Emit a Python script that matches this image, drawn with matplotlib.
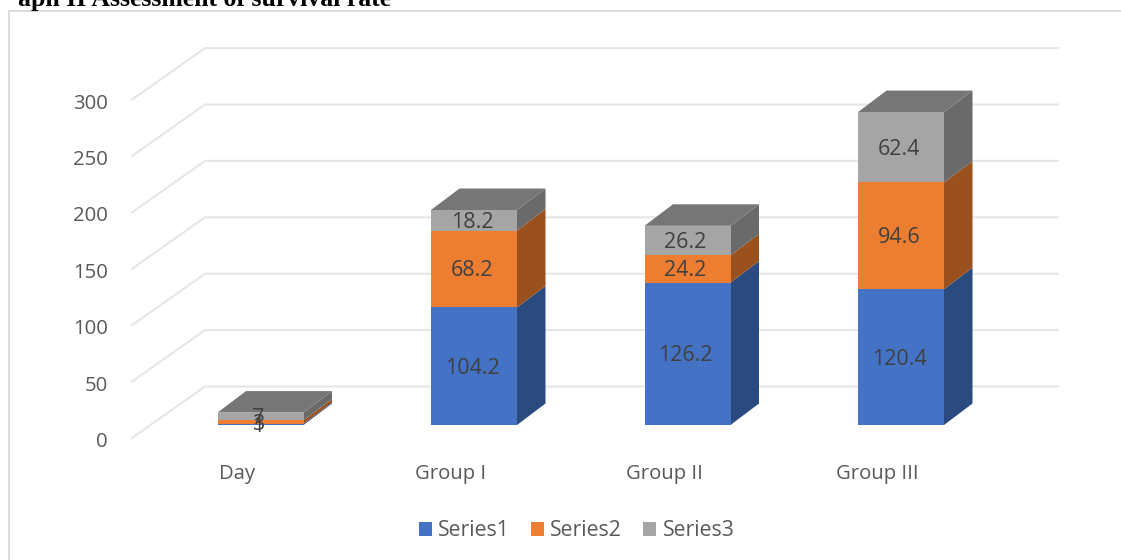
import numpy as np
import matplotlib
matplotlib.use("Agg")
import matplotlib.pyplot as plt
from matplotlib.patches import Patch
from matplotlib.lines import Line2D

categories = ["Day", "Group I", "Group II", "Group III"]
series1 = [1, 104.2, 126.2, 120.4]
series2 = [3, 68.2, 24.2, 94.6]
series3 = [7, 18.2, 26.2, 62.4]
yticks = [0, 50, 100, 150, 200, 250, 300]

front_cols = ["#4472C4", "#ED7D31", "#A5A5A5"]
side_cols = ["#2B4A80", "#9A511E", "#6A6A6A"]
top_col = "#767676"
txt_col = "#595959"
grid_col = "#E6E6E6"
font = "Open Sans"

W, H = 1121, 560
fig = plt.figure(figsize=(W / 100, H / 100), dpi=100)
ax = fig.add_axes([0, 0, 1, 1])

# scale: one category = 213.5 px, one value unit = 1.128 px
xs = 213.5
ys = 1.128
ax.set_xlim(-260.5 / xs, (W - 260.5) / xs)
ax.set_ylim(-(H - 425) / ys, 425 / ys)
ax.axis("off")


def px_x(n):
    return n / xs


def px_y(n):
    return n / ys


# back wall and floor gridlines
for t in yticks:
    front = (px_x(132 - 260.5), t - px_y(13))
    back = (px_x(205 - 260.5), t + px_y(38.5))
    right = px_x(1058 - 260.5)
    ax.plot([front[0], back[0], right], [front[1], back[1], back[1]],
            color=grid_col, lw=1.5, solid_joinstyle="miter", zorder=1)
    ax.text(px_x(108 - 260.5), t - px_y(17), str(t), ha="right", va="center",
            fontsize=14.7, color=txt_col, family=font)

x = np.arange(len(categories))
width = px_x(86)
dx = px_x(28.5)
dy = px_y(21.5)
bottom = np.zeros(len(categories))

# stacked bars with depth faces
for i, vals in enumerate([series1, series2, series3]):
    vals = np.array(vals)
    ax.bar(x, vals, width, bottom=bottom, color=front_cols[i], zorder=3, lw=0)
    for j in range(len(x)):
        r = x[j] + width / 2
        b = bottom[j]
        t = b + vals[j]
        ax.fill([r, r + dx, r + dx, r], [b, b + dy, t + dy, t],
                color=side_cols[i], lw=0, zorder=2.5)
        ax.text(x[j] - px_x(2), b + vals[j] / 2 - px_y(2), str(vals[j]).removesuffix(".0"),
                ha="center", va="center", fontsize=15.5, color="#404040", family=font, zorder=5)
    bottom = bottom + vals

for j in range(len(x)):
    l = x[j] - width / 2
    r = x[j] + width / 2
    t = bottom[j]
    ax.fill([l, r, r + dx, l + dx], [t, t, t + dy, t + dy], color=top_col, lw=0, zorder=2.6)
    ax.text(x[j] - px_x(23.5), px_y(-49), categories[j], ha="center", va="center",
            fontsize=14.6, color=txt_col, family=font)

handles = [Patch(color=c, lw=0) for c in front_cols]
ax.legend(handles, ["Series1", "Series2", "Series3"], ncol=3, frameon=False,
          loc="center", bbox_to_anchor=(576.5 / W, 1 - 531 / H),
          bbox_transform=fig.transFigure, handlelength=0.62, handleheight=0.62,
          handletextpad=0.3, columnspacing=0.98,
          prop={"family": font, "size": 15.3}, labelcolor=txt_col)

# outer frame, only left and top are visible
fig.add_artist(Line2D([9 / W, 9 / W, 1], [0, 1 - 11 / H, 1 - 11 / H], color="#D9D9D9", lw=1.3))

fig.text(18 / W, 1 - 6 / H, "aph II Assessment of survival rate", family="Liberation Serif",
         weight="bold", fontsize=18.5, color="black", va="baseline", ha="left")

fig.savefig("out.png", dpi=100)
